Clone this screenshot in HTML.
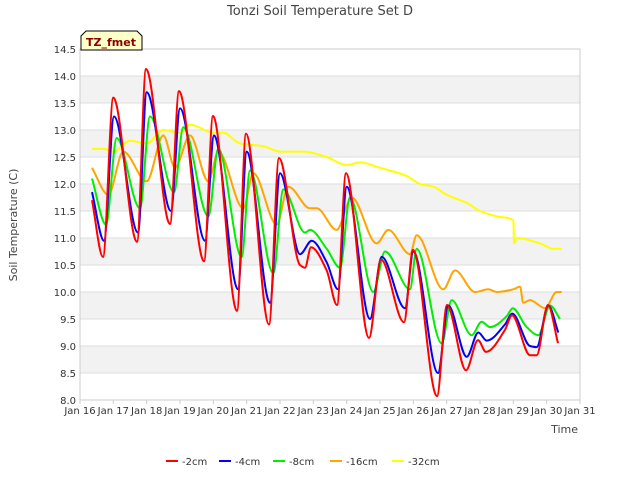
<!DOCTYPE html>
<html><head><meta charset="utf-8"><style>
body{margin:0;background:#fff;font-family:"Liberation Sans","DejaVu Sans",sans-serif}
svg text{font-family:"DejaVu Sans","Liberation Sans",sans-serif}
</style></head><body>
<svg id="chart" width="640" height="480" xmlns="http://www.w3.org/2000/svg">
<rect width="640" height="480" fill="#fff"/>
<text x="320" y="15" text-anchor="middle" font-size="13" fill="#444">Tonzi Soil Temperature Set D</text>
<g id="grid"></g><g id="series"></g><g id="axes"></g>
<text transform="translate(17,225) rotate(-90)" text-anchor="middle" font-size="11" fill="#444">Soil Temperature (C)</text>
<text x="578" y="433" text-anchor="end" font-size="11" fill="#444">Time</text>
<g>
<path d="M81,50 L81,36 L86,31 L137,31 L142,36 L142,50 Z" fill="#ffffc8" stroke="#000" stroke-width="1"/>
<text x="111" y="46" text-anchor="middle" font-size="11" font-weight="bold" fill="#8b0000">TZ_fmet</text>
</g>
<g id="legend"></g>
</svg>
<script>
const days=[0,1,2,3,4,5,6,7,8,9,10,11,12,13,14,15];
const dayLabels=["Jan 16","Jan 17","Jan 18","Jan 19","Jan 20","Jan 21","Jan 22","Jan 23","Jan 24","Jan 25","Jan 26","Jan 27","Jan 28","Jan 29","Jan 30","Jan 31"];
const yTicks=[8.0,8.5,9.0,9.5,10.0,10.5,11.0,11.5,12.0,12.5,13.0,13.5,14.0,14.5];
const seriesNames=["-2cm","-4cm","-8cm","-16cm","-32cm"];
const seriesColors=["#ff0000","#0000ff","#00ee00","#ffa500","#ffff00"];
const t2=[0.36,0.69,1.0,1.71,1.98,2.7,2.97,3.72,3.99,4.71,4.98,5.67,5.97,6.6,6.75,6.93,7.4,7.71,7.98,8.67,9.03,9.72,9.99,10.71,11.01,11.58,11.94,12.18,12.75,12.96,13.5,13.7,14.04,14.34];
const v2=[11.7,10.65,13.6,10.93,14.13,11.26,13.72,10.57,13.26,9.65,12.93,9.4,12.48,10.5,10.45,10.83,10.4,9.76,12.2,9.15,10.6,9.44,10.78,8.07,9.76,8.55,9.11,8.89,9.3,9.57,8.83,8.83,9.76,9.05];
const t4=[0.36,0.72,1.02,1.74,2.0,2.73,3.0,3.75,4.02,4.74,5.0,5.7,6.0,6.6,6.95,7.4,7.74,8.0,8.7,9.05,9.75,10.0,10.74,11.05,11.6,11.95,12.2,12.75,12.97,13.5,13.7,14.05,14.35];
const v4=[11.85,10.95,13.25,11.1,13.7,11.5,13.4,10.95,12.9,10.05,12.6,9.8,12.2,10.7,10.95,10.55,10.05,11.95,9.5,10.65,9.7,10.75,8.5,9.75,8.8,9.25,9.1,9.4,9.6,9.0,8.98,9.75,9.25];
const t8=[0.36,0.78,1.1,1.8,2.1,2.82,3.1,3.85,4.15,4.85,5.1,5.8,6.1,6.75,6.9,7.4,7.8,8.1,8.8,9.15,9.9,10.1,10.85,11.15,11.75,12.05,12.3,12.8,12.98,13.4,13.75,14.1,14.4];
const v8=[12.1,11.25,12.85,11.55,13.25,11.85,13.05,11.4,12.65,10.65,12.25,10.35,11.9,11.1,11.15,10.8,10.45,11.75,10.0,10.75,10.05,10.8,9.05,9.85,9.2,9.45,9.35,9.55,9.7,9.35,9.2,9.75,9.5];
const t16=[0.36,0.85,1.3,2.0,2.5,2.85,3.3,3.85,4.15,4.9,5.2,5.9,6.25,6.9,7.1,7.7,8.15,8.9,9.25,9.9,10.1,10.9,11.25,11.85,12.25,12.5,13.0,13.2,13.3,13.5,13.95,14.3,14.45];
const v16=[12.3,11.8,12.6,12.05,12.9,12.3,12.9,12.05,12.6,11.55,12.2,11.25,11.95,11.55,11.55,11.15,11.75,10.9,11.15,10.7,11.05,10.05,10.4,10.0,10.05,10.0,10.05,10.1,9.8,9.85,9.7,10.0,10.0];
const t32=[0.36,0.7,1.0,1.5,2.0,2.5,3.0,3.3,4.0,4.3,4.8,5.5,6.0,6.7,7.4,8.0,8.4,9.0,9.8,10.2,10.6,11.0,11.6,12.0,12.5,13.0,13.02,13.1,13.8,14.2,14.45];
const v32=[12.65,12.65,12.6,12.8,12.75,13.0,12.95,13.1,12.95,12.95,12.75,12.7,12.6,12.6,12.5,12.35,12.4,12.3,12.15,12.0,11.95,11.8,11.65,11.5,11.4,11.33,10.9,11.0,10.9,10.8,10.8];
const allT=[t2,t4,t8,t16,t32], allV=[v2,v4,v8,v16,v32];
const X0=80,X1=580,Y0=400,Y1=49;
const xs=d=>X0+(d-0)/15*(X1-X0);
const ys=v=>Y0-(v-8)/(14.5-8)*(Y0-Y1);
const NS="http://www.w3.org/2000/svg";
function mk(tag,attrs,parent){const e=document.createElementNS(NS,tag);for(const k in attrs)e.setAttribute(k,attrs[k]);parent.appendChild(e);return e;}
const grid=document.getElementById('grid'),axes=document.getElementById('axes'),ser=document.getElementById('series'),leg=document.getElementById('legend');
for(let i=0;i<yTicks.length-1;i++){
 if(i%2==1){const r=mk('rect',{x:X0,y:ys(yTicks[i+1]),width:X1-X0,height:ys(yTicks[i])-ys(yTicks[i+1]),fill:'#f2f2f2'},grid);
 }
}
yTicks.forEach(v=>{const l=mk('line',{x1:X0,x2:X1,y1:ys(v),y2:ys(v),stroke:'#dddddd','stroke-width':1},grid);
 
 const t=mk('text',{x:X0-4,y:ys(v)+4,'text-anchor':'end','font-size':10,fill:'#333'},axes);t.textContent=v.toFixed(1);
 });
days.forEach((d,i)=>{const t=mk('text',{x:xs(d),y:414,'text-anchor':'middle','font-size':10,fill:'#333'},axes);t.textContent=dayLabels[i];
 
 const l=mk('line',{x1:xs(d),x2:xs(d),y1:Y0,y2:Y0+4,stroke:'#ccc'},axes);
 });
const fr=mk('rect',{x:X0,y:Y1,width:X1-X0,height:Y0-Y1,fill:'none',stroke:'#cccccc'},axes);

function monotone(P){
 const n=P.length,dx=[],m=[],sl=[];
 for(let i=0;i<n-1;i++){dx[i]=P[i+1][0]-P[i][0];sl[i]=(P[i+1][1]-P[i][1])/dx[i];}
 m[0]=sl[0];m[n-1]=sl[n-2];
 for(let i=1;i<n-1;i++){ if(sl[i-1]*sl[i]<=0)m[i]=0; else m[i]=3*(dx[i-1]+dx[i])/((2*dx[i]+dx[i-1])/sl[i-1]+(dx[i]+2*dx[i-1])/sl[i]); }
 let d=`M${P[0][0].toFixed(1)},${P[0][1].toFixed(1)}`;
 for(let i=0;i<n-1;i++){const h=dx[i]/3;
  d+=` C${(P[i][0]+h).toFixed(1)},${(P[i][1]+m[i]*h).toFixed(1)} ${(P[i+1][0]-h).toFixed(1)},${(P[i+1][1]-m[i+1]*h).toFixed(1)} ${P[i+1][0].toFixed(1)},${P[i+1][1].toFixed(1)}`;}
 return d;}
for(let s=allT.length-1;s>=0;s--){
 const P=allT[s].map((t,i)=>[xs(t),ys(allV[s][i])]);
 const p=mk('path',{d:monotone(P),fill:'none',stroke:seriesColors[s],'stroke-width':2,'stroke-linejoin':'round'},ser);
 
 
}
const lx=[166,219,273,330,392];
seriesNames.forEach((n,i)=>{const g=mk('g',{},leg);
 
 mk('line',{x1:lx[i],x2:lx[i]+12,y1:461,y2:461,stroke:seriesColors[i],'stroke-width':2},g);
 const t=mk('text',{x:lx[i]+16,y:465,'font-size':10,fill:'#333'},g);t.textContent=n;});
</script>
</body></html>
